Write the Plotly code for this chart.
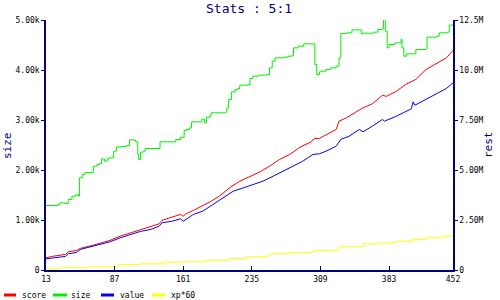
import plotly.graph_objects as go

# ---- data ----
size_x = [13,26,28,34,37,41,45,48,49,52,55,61,64,68,71,73,76,79,81,84,86,89,95,100,103,108,110,112,113,115,118,120,135,136,151,153,158,161,162,164,168,170,180,181,184,186,190,191,207,208,210,213,217,220,222,231,233,236,242,251,254,257,260,269,274,279,280,285,291,302,303,305,308,310,315,320,326,329,331,337,343,352,353,355,367,371,376,377,379,381,383,389,396,397,399,402,410,412,423,424,434,437,446,448,452]
size_y = [1290,1310,1343,1330,1410,1477,1503,1477,1843,1910,1950,1950,2077,2110,2130,2223,2177,2223,2243,2243,2377,2463,2470,2490,2603,2590,2563,2310,2210,2357,2377,2430,2430,2563,2563,2610,2657,2650,2790,2810,2843,2963,2963,3017,2943,3057,3077,3143,3163,3243,3410,3563,3610,3630,3697,3710,3830,3877,3897,3910,4043,4177,4243,4257,4277,4290,4443,4477,4523,4523,4110,3910,3963,3977,4010,4043,4077,4243,4730,4743,4803,4803,4723,4737,4757,4810,4830,5010,4777,4443,4510,4543,4610,4443,4277,4323,4323,4410,4423,4657,4677,4743,4757,4897,4910]

score_x = [13,21,34,37,46,50,64,73,82,93,104,115,126,135,138,149,158,161,164,172,179,190,200,211,222,233,244,254,265,276,287,298,303,308,315,326,329,337,347,355,365,376,380,391,401,412,423,434,445,452]
score_m = [0.61,0.69,0.78,0.91,0.98,1.08,1.24,1.36,1.48,1.69,1.86,2.03,2.19,2.31,2.48,2.64,2.78,2.69,2.81,2.98,3.14,3.41,3.69,4.11,4.44,4.69,4.91,5.19,5.53,5.78,6.14,6.39,6.58,6.58,6.74,7.03,7.44,7.61,7.89,8.11,8.31,8.74,8.68,8.94,9.28,9.53,10.03,10.31,10.61,10.98]

value_x = [13,21,34,37,46,50,64,73,82,93,104,115,126,135,138,149,158,161,164,172,182,193,204,215,226,236,247,258,269,280,290,301,308,315,326,331,340,351,355,365,376,378,391,407,409,411,423,434,445,452]
value_m = [0.56,0.61,0.68,0.81,0.88,1.03,1.19,1.31,1.41,1.61,1.78,1.93,2.03,2.19,2.36,2.44,2.56,2.44,2.53,2.78,2.94,3.28,3.58,3.94,4.11,4.28,4.44,4.69,4.94,5.19,5.44,5.78,5.81,5.94,6.19,6.53,6.69,7.03,6.91,7.19,7.53,7.44,7.69,8.06,8.41,8.24,8.53,8.78,9.08,9.36]

xp_x = [13,28,57,91,115,140,161,186,211,229,250,254,276,301,304,326,329,352,355,376,391,403,409,423,441,452]
xp_m = [0.06,0.11,0.16,0.28,0.31,0.39,0.41,0.49,0.58,0.66,0.69,0.81,0.88,0.94,0.98,0.98,1.16,1.18,1.31,1.36,1.44,1.44,1.53,1.61,1.69,1.74]

x_ticks = [13, 87, 161, 235, 309, 383, 452]
left_ticks = [0, 1000, 2000, 3000, 4000, 5000]
left_labels = ["0", "1.00k", "2.00k", "3.00k", "4.00k", "5.00k"]
right_ticks = [0, 2.5, 5.0, 7.5, 10.0, 12.5]
right_labels = ["0", "2.50M", "5.00M", "7.50M", "10.0M", "12.5M"]

series = [("score", "#ff0000"), ("size", "#00f000"), ("value", "#0000ff"), ("xp*60", "#ffff00")]

NAVY = "#000080"
FONT = "DejaVu Sans Mono"

fig = go.Figure()
fig.add_trace(go.Scatter(x=size_x, y=size_y, mode="lines", name="size",
                         line=dict(color="#00f000", width=1, shape="hv"), yaxis="y"))
fig.add_trace(go.Scatter(x=score_x, y=score_m, mode="lines", name="score",
                         line=dict(color="#ff0000", width=1), yaxis="y2"))
fig.add_trace(go.Scatter(x=value_x, y=value_m, mode="lines", name="value",
                         line=dict(color="#0000ff", width=1), yaxis="y2"))
fig.add_trace(go.Scatter(x=xp_x, y=xp_m, mode="lines", name="xp*60",
                         line=dict(color="#ffff00", width=1, shape="hv"), yaxis="y2"))

L, R, T, B = 46, 47, 20, 30
W, H = 500, 300
pw, ph = W - L - R, H - T - B

def px(x):
    return (x - L) / pw

def py(y):
    return (H - B - y) / ph

shapes = []
annotations = []
legend_pos = [(4, 16, 20), (53, 67, 69), (101, 114, 118), (152, 165, 169)]
for (name, color), (x0, x1, tx) in zip(series, legend_pos):
    shapes.append(dict(type="line", xref="paper", yref="paper",
                       x0=px(x0), x1=px(x1), y0=py(295), y1=py(295),
                       line=dict(color=color, width=3)))
    annotations.append(dict(text=name, xref="paper", yref="paper",
                            x=px(tx), y=py(295), xanchor="left", yanchor="middle",
                            showarrow=False, font=dict(family=FONT, size=8, color="black")))

annotations.append(dict(text="size", xref="paper", yref="paper", x=px(7), y=py(146),
                        textangle=-90, showarrow=False, xanchor="center", yanchor="middle",
                        font=dict(family=FONT, size=11, color=NAVY)))
annotations.append(dict(text="rest", xref="paper", yref="paper", x=px(488), y=py(145),
                        textangle=-90, showarrow=False, xanchor="center", yanchor="middle",
                        font=dict(family=FONT, size=11, color=NAVY)))
annotations.append(dict(text="Stats : 5:1", xref="paper", yref="paper", x=px(249), y=py(9),
                        showarrow=False, xanchor="center", yanchor="middle",
                        font=dict(family=FONT, size=13, color=NAVY)))

fig.update_layout(
    width=W, height=H,
    margin=dict(l=L, r=R, t=T, b=B, pad=0, autoexpand=False),
    paper_bgcolor="white", plot_bgcolor="white",
    showlegend=False,
    font=dict(family=FONT, size=8, color="black"),
    xaxis=dict(range=[13, 452], tickvals=x_ticks, ticktext=[str(v) for v in x_ticks],
               showgrid=False, zeroline=False, showline=True, linecolor=NAVY, linewidth=2,
               ticks="inside", ticklen=4, tickcolor=NAVY, tickwidth=1,
               tickfont=dict(family=FONT, size=8, color="black")),
    yaxis=dict(range=[0, 5000], tickvals=left_ticks, ticktext=left_labels,
               showgrid=False, zeroline=False, showline=True, linecolor=NAVY, linewidth=1.5,
               ticks="outside", ticklen=3, tickcolor=NAVY, tickwidth=1,
               tickfont=dict(family=FONT, size=8, color="black")),
    yaxis2=dict(range=[0, 12.5], tickvals=right_ticks, ticktext=right_labels,
                overlaying="y", side="right",
                showgrid=False, zeroline=False, showline=True, linecolor=NAVY, linewidth=1.5,
                ticks="outside", ticklen=3, tickcolor=NAVY, tickwidth=1,
                tickfont=dict(family=FONT, size=8, color="black")),
    shapes=shapes,
    annotations=annotations,
)

fig.write_html("out.html")
